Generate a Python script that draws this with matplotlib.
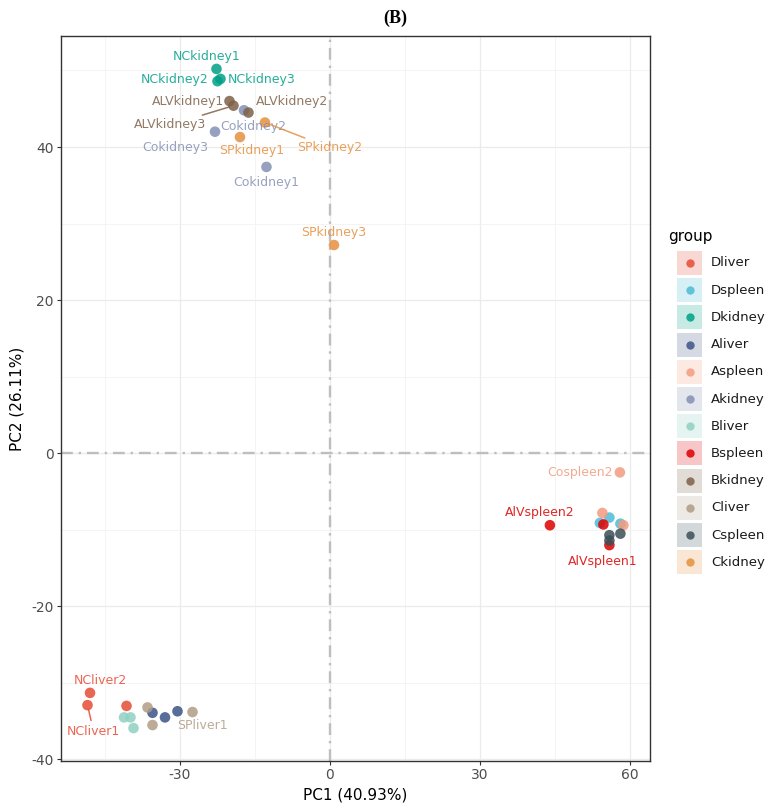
import matplotlib
matplotlib.use("Agg")
import matplotlib.pyplot as plt
from matplotlib.patches import Rectangle
from matplotlib.colors import to_rgba

plt.rcParams['axes.unicode_minus'] = False

# groups in legend order, with colours
groups = ['Dliver', 'Dspleen', 'Dkidney', 'Aliver', 'Aspleen', 'Akidney',
          'Bliver', 'Bspleen', 'Bkidney', 'Cliver', 'Cspleen', 'Ckidney']
group_colors = ['#E64B35', '#4DBBD5', '#00A087', '#3C5488', '#F39B7F', '#8491B4',
                '#91D1C2', '#DC0000', '#7E6148', '#B09C85', '#3B4F57', '#E6903F']

# samples (3 per group)
samples = ['NCliver1', 'NCliver2', 'NCliver3',
           'NCspleen1', 'NCspleen2', 'NCspleen3',
           'NCkidney1', 'NCkidney2', 'NCkidney3',
           'Coliver1', 'Coliver2', 'Coliver3',
           'Cospleen1', 'Cospleen2', 'Cospleen3',
           'Cokidney1', 'Cokidney2', 'Cokidney3',
           'ALVliver1', 'ALVliver2', 'ALVliver3',
           'AlVspleen1', 'AlVspleen2', 'AlVspleen3',
           'ALVkidney1', 'ALVkidney2', 'ALVkidney3',
           'SPliver1', 'SPliver2', 'SPliver3',
           'SPspleen1', 'SPspleen2', 'SPspleen3',
           'SPkidney1', 'SPkidney2', 'SPkidney3']
sample_group = [g for g in groups for _ in range(3)]
pc1 = [-48.5, -48.0, -40.7,
       55.9, 54.0, 58.1,
       -22.7, -22.5, -21.9,
       -35.5, -33.0, -30.5,
       54.5, 58.0, 58.7,
       -12.7, -17.2, -23.0,
       -41.2, -39.9, -39.3,
       55.9, 44.0, 54.7,
       -20.1, -16.3, -19.3,
       -27.5, -36.5, -35.5,
       58.1, 55.9, 55.9,
       -18.0, -13.0, 0.8]
pc2 = [-32.9, -31.3, -33.0,
       -8.4, -9.1, -9.2,
       50.2, 48.6, 48.9,
       -33.9, -34.5, -33.7,
       -7.8, -2.5, -9.4,
       37.4, 44.8, 42.0,
       -34.5, -34.5, -35.9,
       -12.0, -9.4, -9.3,
       46.0, 44.5, 45.4,
       -33.8, -33.2, -35.5,
       -10.5, -10.7, -11.4,
       41.3, 43.2, 27.2]

# labelled samples and where their repelled text sits
label_pos = {
    'NCkidney1': (-24.7, 51.8), 'NCkidney2': (-31.0, 48.8), 'NCkidney3': (-13.7, 48.8),
    'ALVkidney1': (-28.3, 46.0), 'ALVkidney2': (-7.5, 46.0), 'ALVkidney3': (-31.9, 42.9),
    'Cokidney2': (-15.3, 42.7), 'Cokidney3': (-31.0, 40.0), 'SPkidney1': (-15.7, 39.6),
    'SPkidney2': (0.0, 39.9), 'Cokidney1': (-12.7, 35.3), 'SPkidney3': (0.8, 28.8),
    'Cospleen2': (50.1, -2.5), 'AlVspleen2': (42.0, -7.8), 'AlVspleen1': (54.6, -14.1),
    'NCliver2': (-45.9, -29.7), 'NCliver1': (-47.3, -36.3), 'SPliver1': (-25.5, -35.6),
}
with_segment = ['ALVkidney3', 'SPkidney2', 'NCliver1']

color_of = dict(zip(groups, group_colors))

fig = plt.figure(figsize=(7.7, 8.09), dpi=100)
ax = fig.add_axes([0.0786, 0.0593, 0.7654, 0.8962])

ax.set_xlim(-53.9, 64.0)
ax.set_ylim(-40.2, 54.5)
ax.set_xticks([-30, 0, 30, 60])
ax.set_yticks([-40, -20, 0, 20, 40])
ax.set_xticks([-45, -15, 15, 45], minor=True)
ax.set_yticks([-30, -10, 10, 30, 50], minor=True)
ax.grid(which='major', color='#EBEBEB', lw=0.9, zorder=0)
ax.grid(which='minor', color='#F2F2F2', lw=0.6, zorder=0)
ax.tick_params(which='minor', length=0)
ax.tick_params(which='major', length=3, width=0.8, color='#333333',
               labelcolor='#4D4D4D', labelsize=10, pad=2)
for sp in ax.spines.values():
    sp.set_color('#333333')
    sp.set_linewidth(1.0)
ax.set_axisbelow(True)

ax.axhline(0, color='#BEBEBE', lw=1.7, ls=(0, (5, 2.5, 1, 2.5)), zorder=1)
ax.axvline(0, color='#BEBEBE', lw=1.7, ls=(0, (5, 2.5, 1, 2.5)), zorder=1)

pt_colors = [color_of[g] for g in sample_group]
ax.scatter(pc1, pc2, s=58, c=pt_colors, alpha=0.85, edgecolors='none', zorder=3)

for name, (tx, ty) in label_pos.items():
    i = samples.index(name)
    col = to_rgba(color_of[sample_group[i]], 0.85)
    if name in with_segment:
        ax.annotate(name, xy=(pc1[i], pc2[i]), xytext=(tx, ty),
                    ha='center', va='center', fontsize=9, color=col,
                    arrowprops=dict(arrowstyle='-', color=col, lw=1.1,
                                    shrinkA=1, shrinkB=3), zorder=4)
    else:
        ax.text(tx, ty, name, ha='center', va='center', fontsize=9,
                color=col, zorder=4)

ax.set_xlabel('PC1 (40.93%)', fontsize=11, labelpad=4)
ax.set_ylabel('PC2 (26.11%)', fontsize=11, labelpad=5)

fig.text(395 / 770, 1 - 18 / 809, '(B)', ha='center', va='center',
         fontsize=13, fontweight='bold', family='Liberation Serif')

# legend drawn by hand to get the filled key boxes
W, H = 770, 809
fig.text(668 / W, 1 - 237 / H, 'group', ha='left', va='center', fontsize=11)
for k, (g, col) in enumerate(zip(groups, group_colors)):
    yc = 263 + k * 27.2
    fig.add_artist(Rectangle((677 / W, 1 - (yc + 12) / H), 25 / W, 24 / H,
                             transform=fig.transFigure, lw=0,
                             facecolor=to_rgba(col, 0.22)))
    fig.add_artist(plt.Line2D([689.5 / W], [1 - yc / H], marker='o', ms=6,
                              color=col, alpha=0.85, mec='none', ls='none',
                              transform=fig.transFigure))
    fig.text(711 / W, 1 - yc / H, g, ha='left', va='center', fontsize=9.5,
             color='#1A1A1A')

fig.savefig('out.png', dpi=100)
